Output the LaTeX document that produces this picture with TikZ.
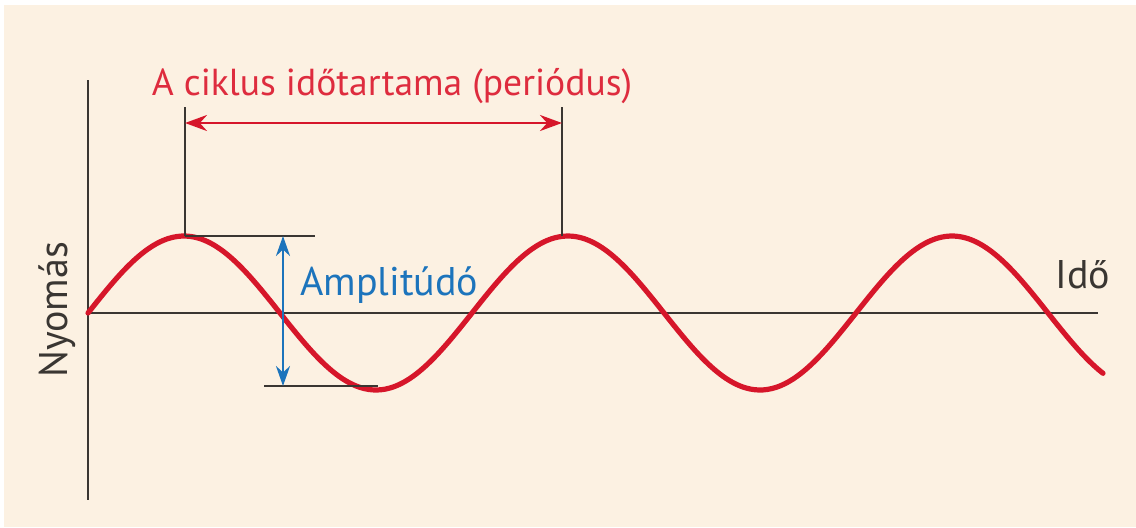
\documentclass[tikz,border=0pt]{standalone}
\usepackage{fontspec}
\setmainfont{PT Sans}
\usetikzlibrary{arrows.meta, positioning}
\definecolor{paper}{RGB}{252,241,226}
\definecolor{wavered}{RGB}{214,22,42}
\definecolor{lblred}{RGB}{222,44,62}
\definecolor{ampblue}{RGB}{28,116,188}
\definecolor{axisgray}{RGB}{58,54,50}
\tikzset{
    axis_line/.style={draw=axisgray, line width=1.2pt},
    tick_line/.style={draw=axisgray, line width=1.2pt},
    wave_red/.style={draw=wavered, line width=2.6pt, line cap=round},
    period_arrow/.style={<->, draw=wavered, line width=1.4pt, >={Stealth[length=11pt, width=8pt]}},
    amp_arrow/.style={<->, draw=ampblue, line width=1.3pt, >={Stealth[length=10pt, width=7pt]}},
    lbl/.style={font=\fontsize{20}{24}\selectfont, inner sep=0pt}
}
\begin{document}
\begin{tikzpicture}[x=0.5pt, y=-0.5pt]

    \useasboundingbox (0,0) rectangle (1136,527);
    \fill[white] (0,0) rectangle (1136,527);
    \fill[paper] (4,5) rectangle (1136,527);

    % axes
    \coordinate (origin) at (88,313);
    \coordinate (y_top) at (88,80);
    \coordinate (y_bottom) at (88,500);
    \coordinate (x_end) at (1098,313);
    \draw[axis_line] (y_top) -- (y_bottom);
    \draw[axis_line] (origin) -- (x_end);

    % wave
    \draw[wave_red] plot[domain=88:1103, samples=240, smooth] (\x, {313-77*sin((\x-88)/384*360)});

    % period markers
    \coordinate (peak_a) at (185,236);
    \coordinate (peak_a_top) at (185,107);
    \coordinate (peak_b) at (562,236);
    \coordinate (peak_b_top) at (562,107);
    \coordinate (per_left) at (185,123);
    \coordinate (per_right) at (562,123);
    \draw[tick_line] (peak_a) -- (peak_a_top);
    \draw[tick_line] (peak_b) -- (peak_b_top);
    \draw[period_arrow] (per_left) -- (per_right);

    % amplitude markers
    \coordinate (amp_hi_end) at (315,236);
    \coordinate (amp_lo_start) at (264,386);
    \coordinate (amp_lo_end) at (378,386);
    \coordinate (amp_top) at (283,236);
    \coordinate (amp_bottom) at (283,386);
    \draw[tick_line] (peak_a) -- (amp_hi_end);
    \draw[tick_line] (amp_lo_start) -- (amp_lo_end);
    \draw[amp_arrow] (amp_top) -- (amp_bottom);

    % labels
    \node[lbl, text=lblred, anchor=base, font=\fontsize{18.8}{22}\selectfont] (period_lbl) at (392,95) {A ciklus időtartama (periódus)};
    \node[lbl, text=ampblue, anchor=base west] (amp_lbl) at (300,295) {Amplitúdó};
    \node[lbl, text=axisgray, anchor=base] (time_lbl) at (1083,288) {Idő};
    \node[lbl, text=axisgray, anchor=base, rotate=90] (pressure_lbl) at (67,310) {Nyomás};

\end{tikzpicture}
\end{document}
